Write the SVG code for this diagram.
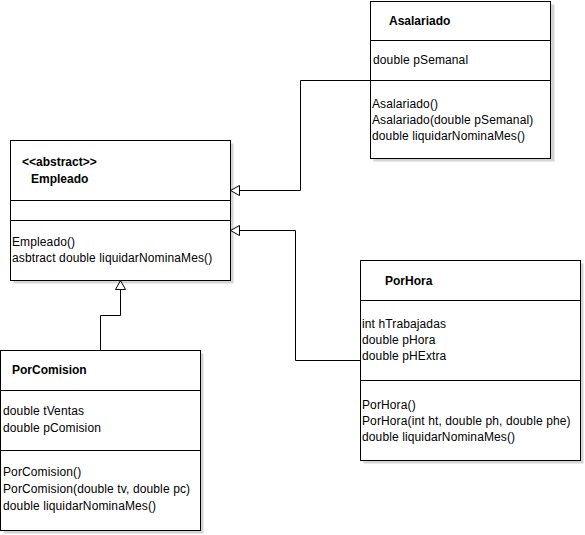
<svg xmlns="http://www.w3.org/2000/svg" width="585" height="535" viewBox="0 0 585 535">
  <style>
    text { font-family: "Liberation Sans", Arial, sans-serif; font-size: 12px; fill: #000; letter-spacing: 0.12px; }
    .name { font-weight: bold; letter-spacing: 0; }
    .shadow { fill: #d4d4d4; stroke: none; }
    .box { fill: #fff; stroke: #000; stroke-width: 1; }
    .sep { stroke: #000; stroke-width: 1; }
    .edge { fill: none; stroke: #000; stroke-width: 1; }
    .head { fill: #fff; stroke: #000; stroke-width: 1; }
  </style>
  <rect width="585" height="535" fill="#fff"/>

  <g id="asalariado">
    <rect class="shadow" x="373.5" y="4.5" width="181" height="157"/>
    <rect class="box" x="370.5" y="1.5" width="180" height="157"/>
    <line class="sep" x1="370.5" y1="40.5" x2="550.5" y2="40.5"/>
    <line class="sep" x1="370.5" y1="80.5" x2="550.5" y2="80.5"/>
    <text class="name" x="389" y="25">Asalariado</text>
    <text x="373" y="64">double pSemanal</text>
    <text x="372" y="108">Asalariado()</text>
    <text x="372" y="124">Asalariado(double pSemanal)</text>
    <text x="372" y="140">double liquidarNominaMes()</text>
  </g>

  <g id="empleado">
    <rect class="shadow" x="13.5" y="143.5" width="220" height="140"/>
    <rect class="box" x="10.5" y="140.5" width="220" height="140"/>
    <line class="sep" x1="10.5" y1="200.5" x2="230.5" y2="200.5"/>
    <line class="sep" x1="10.5" y1="220.5" x2="230.5" y2="220.5"/>
    <text class="name" x="22" y="166">&lt;&lt;abstract&gt;&gt;</text>
    <text class="name" x="31" y="183">Empleado</text>
    <text x="12" y="246">Empleado()</text>
    <text x="12" y="262">asbtract double liquidarNominaMes()</text>
  </g>

  <g id="porcomision">
    <rect class="shadow" x="3.5" y="353.5" width="200" height="180"/>
    <rect class="box" x="0.5" y="350.5" width="200" height="180"/>
    <line class="sep" x1="0.5" y1="390.5" x2="200.5" y2="390.5"/>
    <line class="sep" x1="0.5" y1="450.5" x2="200.5" y2="450.5"/>
    <text class="name" x="12" y="374">PorComision</text>
    <text x="3" y="415">double tVentas</text>
    <text x="3" y="432">double pComision</text>
    <text x="3" y="476">PorComision()</text>
    <text x="3" y="493">PorComision(double tv, double pc)</text>
    <text x="3" y="510">double liquidarNominaMes()</text>
  </g>

  <g id="porhora">
    <rect class="shadow" x="363.5" y="263.5" width="220" height="200"/>
    <rect class="box" x="360.5" y="260.5" width="220" height="200"/>
    <line class="sep" x1="360.5" y1="300.5" x2="580.5" y2="300.5"/>
    <line class="sep" x1="360.5" y1="380.5" x2="580.5" y2="380.5"/>
    <text class="name" x="385" y="285">PorHora</text>
    <text x="362" y="328">int hTrabajadas</text>
    <text x="362" y="344">double pHora</text>
    <text x="362" y="360">double pHExtra</text>
    <text x="362" y="409">PorHora()</text>
    <text x="362" y="425">PorHora(int ht, double ph, double phe)</text>
    <text x="362" y="441">double liquidarNominaMes()</text>
  </g>

  <g id="connectors">
    <!-- Asalariado generalizes Empleado -->
    <polyline class="edge" points="370.5,80.5 300.5,80.5 300.5,190.5 239.5,190.5"/>
    <polygon class="head" points="230.5,190.5 239.5,185.5 239.5,195.5"/>
    <!-- PorHora generalizes Empleado -->
    <polyline class="edge" points="360.5,360.5 295.5,360.5 295.5,230.5 239.5,230.5"/>
    <polygon class="head" points="230.5,230.5 239.5,225.5 239.5,235.5"/>
    <!-- PorComision generalizes Empleado -->
    <polyline class="edge" points="100.5,350.5 100.5,315.5 120.5,315.5 120.5,289.5"/>
    <polygon class="head" points="120.5,280.5 115.5,289.5 125.5,289.5"/>
  </g>
</svg>
